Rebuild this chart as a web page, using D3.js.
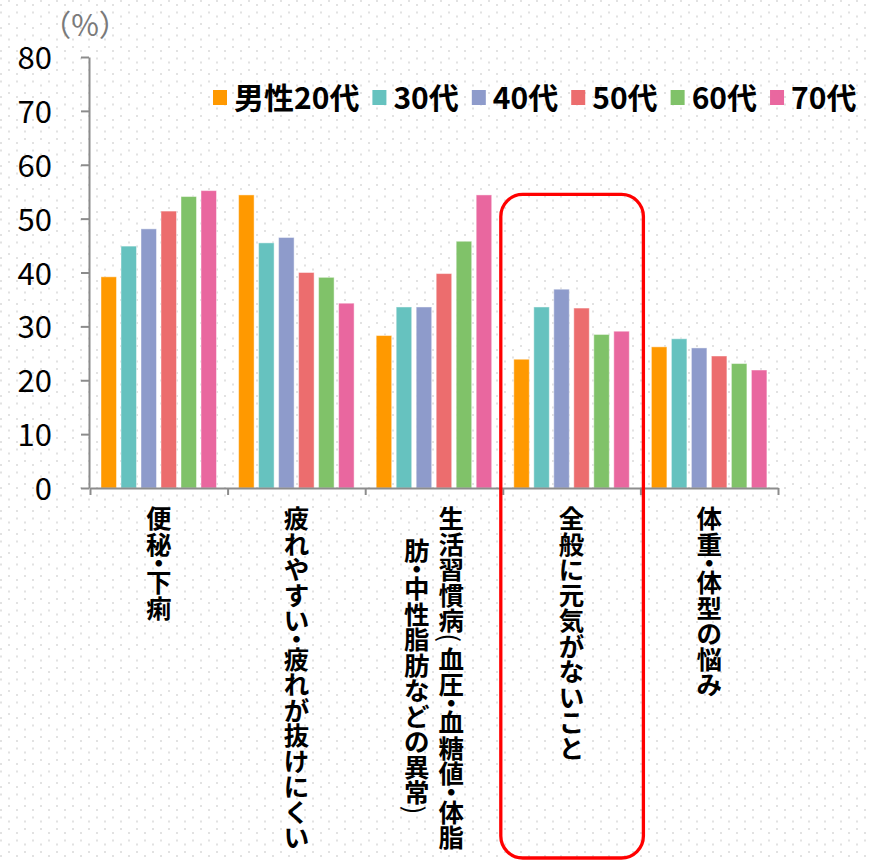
<!DOCTYPE html>
<html>
<head>
<meta charset="utf-8">
<script src="https://cdn.jsdelivr.net/npm/d3@7"></script>
<style>
  html, body { margin: 0; padding: 0; background: #fff; }
  svg { display: block; }
</style>
</head>
<body>
<script>
// Category labels (one array entry per printed column of vertical text)
const categories = ["便秘・下痢", "疲れやすい・疲れが抜けにくい", "生活習慣病", "全般に元気がないこと", "体重・体型の悩み"];
const categoryLines = [
  ["便秘・下痢"],
  ["疲れやすい・疲れが抜けにくい"],
  ["生活習慣病(血圧・血糖値・体脂", "肪・中性脂肪などの異常)"],
  ["全般に元気がないこと"],
  ["体重・体型の悩み"]
];
const seriesNames = ["男性20代", "30代", "40代", "50代", "60代", "70代"];
const seriesColors = ["#FF9900", "#66C2BF", "#8E9BCB", "#EC6D6E", "#80C269", "#E9679F"];

// Percentages per age group, in category order
const s20 = [39.2, 54.4, 28.3, 23.9, 26.2];
const s30 = [44.9, 45.5, 33.6, 33.6, 27.7];
const s40 = [48.1, 46.5, 33.6, 36.9, 26.0];
const s50 = [51.4, 40.0, 39.8, 33.4, 24.5];
const s60 = [54.1, 39.1, 45.8, 28.5, 23.1];
const s70 = [55.2, 34.3, 54.4, 29.1, 21.9];
const seriesValues = [s20, s30, s40, s50, s60, s70];

const yTicks = [0, 10, 20, 30, 40, 50, 60, 70, 80];
const unitLabel = "（%）";
const highlighted = "全般に元気がないこと";

const W = 871, H = 861;
const CJK = "'Noto Sans CJK JP', 'Noto Sans', sans-serif";

const svg = d3.select("body").append("svg")
  .attr("width", W).attr("height", H)
  .attr("viewBox", `0 0 ${W} ${H}`);

// dotted background texture
const defs = svg.append("defs");
const pat = defs.append("pattern")
  .attr("id", "dots").attr("patternUnits", "userSpaceOnUse")
  .attr("width", 16).attr("height", 23);
[[8, 0], [0, 4], [0, 11.5], [8, 15.5]].forEach(([px, py]) => {
  pat.append("rect").attr("x", px).attr("y", py)
    .attr("width", 2).attr("height", 2).attr("fill", "#e2e2e2");
});
svg.append("rect").attr("width", W).attr("height", H).attr("fill", "#fff");
svg.append("rect").attr("width", W).attr("height", H).attr("fill", "url(#dots)");

// scales
const x0 = d3.scaleBand().domain(categories).range([90, 778]).padding(0);
const x1 = d3.scaleBand().domain(seriesNames).range([11, 126.5]).paddingInner(0.225).paddingOuter(0);
const y = d3.scaleLinear().domain([0, 80]).range([488, 57]);
const boundary = d3.scaleLinear().domain([0, categories.length]).range(x0.range());

const axisColor = "#8c8c8c";

// bars
const rows = [];
categories.forEach((c, ci) => {
  seriesNames.forEach((s, si) => rows.push({ c, s, si, v: seriesValues[si][ci] }));
});
svg.append("g").selectAll("rect").data(rows).join("rect")
  .attr("x", d => x0(d.c) + x1(d.s))
  .attr("y", d => y(d.v))
  .attr("width", x1.bandwidth())
  .attr("height", d => y(0) - y(d.v))
  .attr("fill", d => seriesColors[d.si])
  .attr("stroke", "#ffffff").attr("stroke-opacity", 0.45).attr("stroke-width", 1);

// y axis
const gy = svg.append("g").attr("transform", "translate(89,0)")
  .call(d3.axisLeft(y).tickValues(yTicks).tickSize(8).tickSizeOuter(0).tickFormat(""));
gy.select(".domain").attr("stroke", axisColor).attr("stroke-width", 2);
gy.selectAll(".tick line").attr("stroke", axisColor).attr("stroke-width", 2);

svg.append("g").selectAll("text").data(yTicks).join("text")
  .attr("x", 52).attr("y", d => y(d) + 12)
  .attr("text-anchor", "end")
  .attr("font-family", CJK).attr("font-size", 31).attr("fill", "#000")
  .text(d => d);

svg.append("text")
  .attr("x", 85).attr("y", 36)
  .attr("text-anchor", "middle")
  .attr("font-family", CJK).attr("font-size", 30).attr("fill", "#7a7a7a")
  .text(unitLabel);

// x axis with ticks at category boundaries
const gx = svg.append("g").attr("transform", `translate(0,${y(0)})`)
  .call(d3.axisBottom(boundary).tickValues(d3.range(categories.length + 1)).tickSize(7).tickSizeOuter(0).tickFormat(""));
gx.select(".domain").attr("stroke", axisColor).attr("stroke-width", 2);
gx.selectAll(".tick line").attr("stroke", axisColor).attr("stroke-width", 2);

// vertical category labels, laid out one glyph at a time;
// lines of one label are centred on the longest line
const fs = 25.5, adv = 25.5, lineGap = 34.5, top0 = 504;
const halfChars = new Set(["・", "(", ")"]);
const lineLength = str => Array.from(str).reduce((a, ch) => a + (halfChars.has(ch) ? adv / 2 : adv), 0);
const lab = svg.append("g")
  .attr("font-family", CJK).attr("font-size", fs).attr("font-weight", "bold").attr("fill", "#000");
categories.forEach((c, ci) => {
  const lines = categoryLines[ci];
  const cx = x0(c) + x0.bandwidth() / 2;
  const maxLen = d3.max(lines, lineLength);
  lines.forEach((ln, li) => {
    const colX = cx + ((lines.length - 1) / 2 - li) * lineGap;
    let t = top0 + (maxLen - lineLength(ln)) / 2;
    Array.from(ln).forEach(ch => {
      const a = halfChars.has(ch) ? adv / 2 : adv;
      const cy = t + a / 2;
      const txt = lab.append("text")
        .attr("x", colX).attr("y", cy)
        .attr("text-anchor", "middle")
        .attr("dominant-baseline", "central");
      if (ch === "(" || ch === ")") {
        txt.text(ch).attr("font-weight", "normal")
          .attr("transform", `rotate(90,${colX},${cy})`);
      } else {
        txt.text(ch);
      }
      t += a;
    });
  });
});

// highlight frame around one category
const hx = x0(highlighted);
svg.append("rect")
  .attr("x", hx - 2).attr("y", y(54.5))
  .attr("width", x0.bandwidth() + 5).attr("height", 858 - y(54.5))
  .attr("rx", 22).attr("ry", 22)
  .attr("fill", "none").attr("stroke", "#FF0000").attr("stroke-width", 3.3);

// legend
const leg = svg.append("g").attr("font-family", CJK).attr("font-size", 30).attr("font-weight", "bold");
let lx = 213;
seriesNames.forEach((s, i) => {
  leg.append("rect").attr("x", lx).attr("y", 90).attr("width", 14).attr("height", 15).attr("fill", seriesColors[i]);
  const t = leg.append("text").attr("x", lx + 21).attr("y", 109).attr("fill", "#000").text(s);
  lx += 21 + t.node().getComputedTextLength() + 13;
});
</script>
</body>
</html>
